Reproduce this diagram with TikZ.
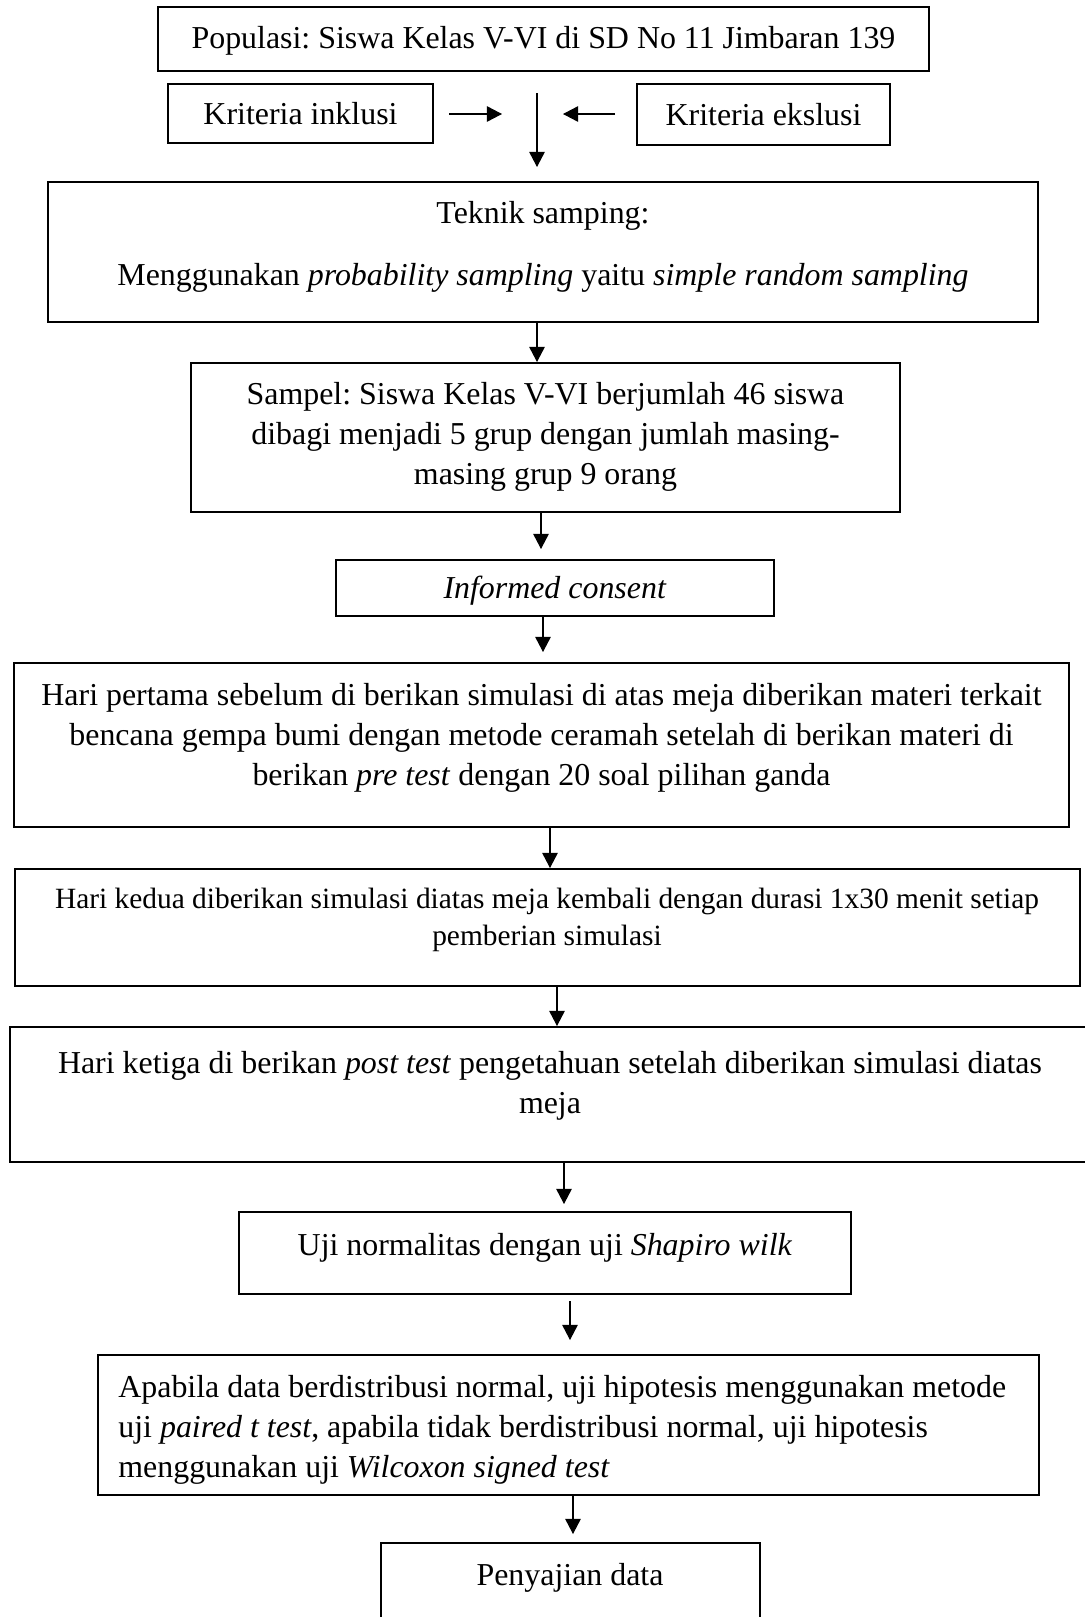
\documentclass[tikz,border=0pt]{standalone}
\usepackage{fontspec}
\setmainfont{Liberation Serif}
\usetikzlibrary{arrows.meta}
\begin{document}
\frenchspacing
\begin{tikzpicture}[x=0.5pt,y=-0.5pt,
  box/.style={draw, line width=1pt, rectangle, inner sep=0pt},
  txt/.style={font=\fontsize{15.95}{20}\selectfont, align=center, inner sep=0pt},
  stxt/.style={font=\fontsize{14.7}{18.5}\selectfont, align=center, inner sep=0pt},
  arr/.style={line width=0.55pt, -{Triangle[length=7.6pt,width=7.8pt]}},
  plain/.style={line width=0.55pt}
]
\useasboundingbox (0,0) rectangle (1085,1617);
\fill[white] (0,0) rectangle (1085,1617);

% boxes
\node[box, minimum width=385.5pt, minimum height=32pt] (b1) at (543.5,39) {};
\node[box, minimum width=132.5pt, minimum height=29.5pt] (b2) at (300.5,113.5) {};
\node[box, minimum width=126.5pt, minimum height=30.5pt] (b3) at (763.5,114.5) {};
\node[box, minimum width=495pt, minimum height=70pt] (b4) at (543,252) {};
\node[box, minimum width=354.5pt, minimum height=74.5pt] (b5) at (545.5,437.5) {};
\node[box, minimum width=219pt, minimum height=28pt] (b6) at (555,588) {};
\node[box, minimum width=527.5pt, minimum height=82pt] (b7) at (541.5,745) {};
\node[box, minimum width=532.5pt, minimum height=58.5pt] (b8) at (547.5,927.5) {};
\node[box, minimum width=545pt, minimum height=67.5pt] (b9) at (555,1094.5) {};
\node[box, minimum width=306pt, minimum height=41pt] (b10) at (545,1253) {};
\node[box, minimum width=470.5pt, minimum height=70pt] (b11) at (568.5,1425) {};
\node[box, minimum width=189.5pt, minimum height=48.5pt] (b12) at (570.5,1591.5) {};

% texts
\node[txt] (t1) at (543.5,41) {Populasi: Siswa Kelas V-VI di SD No 11 Jimbaran 139};
\node[txt] (t2) at (300.5,114) {Kriteria inklusi};
\node[txt] (t3) at (763.5,115) {Kriteria ekslusi};
\node[txt] (t4a) at (543,216) {Teknik samping:};
\node[txt] (t4b) at (543,278) {Menggunakan \textit{probability sampling} yaitu \textit{simple random sampling}};
\node[txt] (t5) at (545.5,437) {Sampel: Siswa Kelas V-VI berjumlah 46 siswa\\dibagi menjadi 5 grup dengan jumlah masing-\\masing grup 9 orang};
\node[txt] (t6) at (555,591) {\textit{Informed consent}};
\node[txt] (t7) at (541.5,738) {Hari pertama sebelum di berikan simulasi di atas meja diberikan materi terkait\\bencana gempa bumi dengan metode ceramah setelah di berikan materi di\\berikan \textit{pre test} dengan 20 soal pilihan ganda};
\node[stxt] (t8) at (547,919.5) {Hari kedua diberikan simulasi diatas meja kembali dengan durasi 1x30 menit setiap\\pemberian simulasi};
\node[txt] (t9) at (550,1086) {Hari ketiga di berikan \textit{post test} pengetahuan setelah diberikan simulasi diatas\\meja};
\node[txt] (t10) at (545,1248) {Uji normalitas dengan uji \textit{Shapiro wilk}};
\node[txt, align=left, anchor=west] (t11) at (118,1430) {Apabila data berdistribusi normal, uji hipotesis menggunakan metode\\uji \textit{paired t test}, apabila tidak berdistribusi normal, uji hipotesis\\menggunakan uji \textit{Wilcoxon signed test}};
\node[txt] (t12) at (570,1578) {Penyajian data};

% connector coordinates
\coordinate (inS) at (449,114);
\coordinate (inE) at (502,114);
\coordinate (exS) at (615,114);
\coordinate (exE) at (563,114);
\coordinate (vS) at (537,93);
\coordinate (vE) at (537,167);
\coordinate (x1) at (537,0);
\coordinate (x2) at (541,0);
\coordinate (x3) at (543,0);
\coordinate (x4) at (550,0);
\coordinate (x5) at (557,0);
\coordinate (x6) at (564,0);
\coordinate (x7) at (570,0);
\coordinate (x8) at (573,0);

% connectors
\draw[arr] (inS) -- (inE);
\draw[arr] (exS) -- (exE);
\draw[arr] (vS) -- (vE);
\draw[arr] (b4.south -| x1) -- (b5.north -| x1);
\draw[arr, shorten >=5pt] (b5.south -| x2) -- (b6.north -| x2);
\draw[arr, shorten >=5pt] (b6.south -| x3) -- (b7.north -| x3);
\draw[arr] (b7.south -| x4) -- (b8.north -| x4);
\draw[arr] (b8.south -| x5) -- (b9.north -| x5);
\draw[arr, shorten >=3.5pt] (b9.south -| x6) -- (b10.north -| x6);
\draw[arr, shorten <=3pt, shorten >=7pt] (b10.south -| x7) -- (b11.north -| x7);
\draw[arr, shorten >=4pt] (b11.south -| x8) -- (b12.north -| x8);
\end{tikzpicture}
\end{document}
